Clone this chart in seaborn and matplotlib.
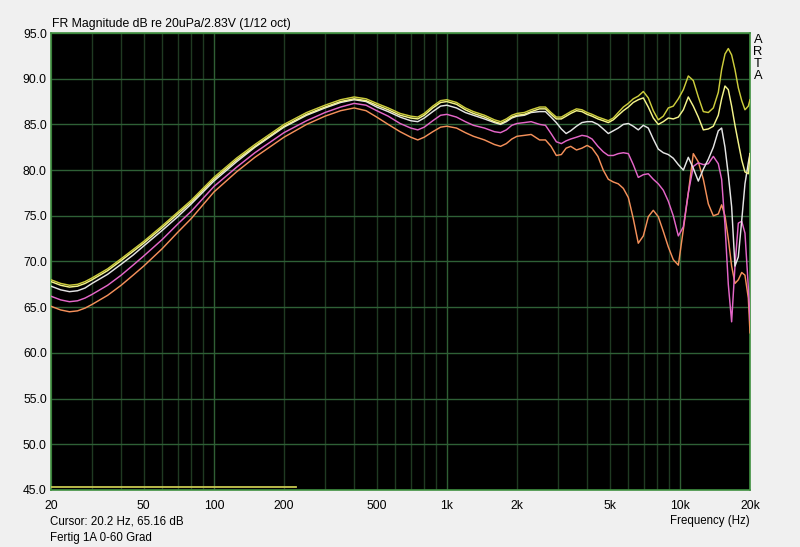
import matplotlib
matplotlib.use("Agg")
import matplotlib.pyplot as plt
import numpy as np
import pandas as pd
import seaborn as sns

# ---------------- data ----------------
freq_hz = [20, 22, 24, 26, 28, 30, 35, 40, 45, 50,
           60, 70, 80, 100, 125, 150, 200, 250, 300, 350,
           400, 450, 500, 560, 630, 700, 750, 800, 870, 940,
           1000, 1100, 1200, 1300, 1450, 1600, 1700, 1800, 1900, 2000,
           2150, 2300, 2500, 2650, 2800, 2950, 3100, 3250, 3400, 3600,
           3800, 4000, 4200,
           4450, 4690, 4930, 5180, 5440, 5720, 6010, 6310, 6630, 6970,
           7320, 7690, 8080, 8490, 8920, 9370, 9850, 10350, 10870, 11420,
           12000, 12610, 13250, 13920, 14620, 15110, 15620, 16140, 16680, 17240,
           17820, 18430, 19030, 19670, 20000]

olive_db = [68.0, 67.6, 67.4, 67.5, 67.8, 68.2, 69.2, 70.3, 71.3, 72.2,
            73.9, 75.4, 76.7, 79.2, 81.3, 82.8, 85.0, 86.3, 87.1, 87.7,
            88.0, 87.8, 87.3, 86.8, 86.2, 85.9, 85.8, 86.2, 87.0, 87.6,
            87.7, 87.4, 86.8, 86.4, 86.0, 85.5, 85.3, 85.6, 86.0, 86.2,
            86.3, 86.6, 86.9, 86.9, 86.3, 85.8, 85.8, 86.1, 86.4, 86.7,
            86.6, 86.3, 86.1,
            85.8, 85.6, 85.4, 85.7, 86.3, 86.9, 87.3, 87.8, 88.1, 88.6,
            87.9, 86.5, 85.5, 85.9, 86.8, 87.0, 87.8, 88.8, 90.3, 89.8,
            88.0, 86.4, 86.3, 86.8, 88.5, 91.0, 92.7, 93.3, 92.6, 91.0,
            89.0, 87.6, 86.6, 87.0, 87.7]

yellow_db = [67.8, 67.4, 67.2, 67.3, 67.6, 68.0, 69.0, 70.1, 71.1, 72.0,
             73.7, 75.2, 76.5, 79.0, 81.1, 82.6, 84.8, 86.1, 86.9, 87.5,
             87.8, 87.6, 87.1, 86.6, 86.0, 85.7, 85.6, 86.0, 86.8, 87.4,
             87.5, 87.2, 86.6, 86.2, 85.8, 85.3, 85.1, 85.4, 85.8, 86.0,
             86.1, 86.4, 86.7, 86.7, 86.1, 85.6, 85.6, 85.9, 86.2, 86.5,
             86.4, 86.1, 85.9,
             85.6, 85.4, 85.2, 85.5, 86.0, 86.5, 86.9, 87.4, 87.7, 87.9,
             86.9, 85.7, 85.0, 85.3, 85.7, 85.6, 85.8, 86.6, 88.0, 87.0,
             85.8, 84.4, 84.5, 84.8, 86.0, 87.8, 89.2, 88.8, 87.0, 84.9,
             83.0, 81.1, 79.8, 79.6, 81.8]

white_db = [67.3, 66.9, 66.7, 66.8, 67.1, 67.6, 68.6, 69.7, 70.7, 71.7,
            73.4, 74.9, 76.3, 78.8, 80.9, 82.5, 84.7, 86.0, 86.8, 87.4,
            87.7, 87.5, 86.9, 86.4, 85.8, 85.4, 85.3, 85.7, 86.4, 87.0,
            87.1, 86.8, 86.3, 86.0, 85.6, 85.2, 85.0, 85.3, 85.7, 85.9,
            86.0, 86.3, 86.4, 86.4, 85.8, 85.2, 84.5, 84.0, 84.3, 84.8,
            85.2, 85.3, 85.3,
            85.0, 84.5, 84.0, 84.3, 84.6, 85.0, 85.1, 84.8, 84.4, 84.9,
            84.6, 83.4, 82.3, 81.9, 81.7, 81.3, 80.6, 80.0, 81.4, 80.2,
            78.8, 80.1, 81.2, 82.5, 84.3, 84.6, 82.5, 79.5, 76.0, 69.5,
            70.5, 74.5, 78.5, 80.8, 81.8]

pink_db = [66.2, 65.8, 65.6, 65.7, 66.0, 66.4, 67.4, 68.5, 69.6, 70.6,
           72.4, 74.1, 75.5, 78.2, 80.3, 81.9, 84.1, 85.4, 86.3, 86.9,
           87.3, 87.1, 86.5, 85.9, 85.1, 84.6, 84.4, 84.7, 85.4, 86.0,
           86.1, 85.8, 85.3, 84.9, 84.6, 84.2, 84.1, 84.4, 84.9, 85.1,
           85.2, 85.3, 85.0, 84.9, 84.0, 83.1, 82.9, 83.2, 83.4, 83.6,
           83.8, 83.7, 83.4,
           82.6, 82.0, 81.6, 81.6, 81.8, 81.9, 81.8, 80.6, 79.2, 79.5,
           79.6, 79.0, 78.5, 77.8, 76.6, 75.0, 72.8, 73.8, 77.5, 80.4,
           80.8, 80.6, 80.7, 81.5, 80.7, 79.0, 74.0, 67.5, 63.4, 69.5,
           74.2, 74.4, 73.1, 67.2, 63.6]

orange_db = [65.1, 64.7, 64.5, 64.6, 64.9, 65.3, 66.3, 67.4, 68.5, 69.5,
             71.4, 73.2, 74.7, 77.6, 79.8, 81.4, 83.6, 85.0, 85.9, 86.5,
             86.8, 86.5, 85.8, 85.0, 84.2, 83.6, 83.3, 83.6, 84.2, 84.7,
             84.8, 84.6, 84.1, 83.7, 83.3, 82.8, 82.6, 82.9, 83.4, 83.7,
             83.8, 83.9, 83.3, 83.3, 82.6, 81.6, 81.7, 82.4, 82.6, 82.2,
             82.4, 82.7, 82.4,
             81.5, 80.0, 79.0, 78.7, 78.5, 78.0, 77.0, 74.7, 72.0, 72.8,
             74.9, 75.6, 74.9, 73.3, 71.6, 70.2, 69.6, 73.5, 77.5, 81.8,
             80.9, 79.0, 76.3, 75.0, 75.2, 76.2, 75.0, 72.5, 69.5, 67.6,
             68.0, 68.8, 68.5, 66.0, 62.2]

series_names = ["0 Grad", "15 Grad", "30 Grad", "45 Grad", "60 Grad"]
series_colors = ["#cccc3c", "#f4f48a", "#e4e4e4", "#e466c8", "#f4905a"]

marker_band_freq = [20, 225]
marker_band_db = [45.3, 45.3]

xtick_values = [20, 50, 100, 200, 500, 1000, 2000, 5000, 10000, 20000]
xtick_labels = ["20", "50", "100", "200", "500", "1k", "2k", "5k", "10k", "20k"]
ytick_values = [45, 50, 55, 60, 65, 70, 75, 80, 85, 90, 95]

# ---------------- figure ----------------
fig = plt.figure(figsize=(8.0, 5.47), dpi=100, facecolor="#f0f0f0")
ax = fig.add_axes([51 / 800, 1 - 490 / 547, 699 / 800, 457 / 547])
ax.set_facecolor("black")

all_db = [olive_db, yellow_db, white_db, pink_db, orange_db]
for arr in all_db:
    assert len(arr) == len(freq_hz)

frames = []
for name, vals in zip(series_names, all_db):
    frames.append(pd.DataFrame({"freq": freq_hz, "db": vals, "series": name}))
df = pd.concat(frames, ignore_index=True)

ax.set_xscale("log")
ax.set_xlim(20, 20000)
ax.set_ylim(45, 95)

# grid
grid_freqs = []
for dec in [10, 100, 1000, 10000]:
    for m in range(1, 10):
        f = dec * m
        if 20 <= f <= 20000:
            grid_freqs.append(f)
grid_freqs.append(20000)
for f in grid_freqs:
    col = "#2f5f34" if f in (100, 1000, 10000) else "#1f3a22"
    ax.axvline(f, color=col, lw=1.0, zorder=1)
for yv in ytick_values:
    ax.axhline(yv, color="#2e6036", lw=1.0, zorder=1)

# curves (draw lower ones first)
order = list(range(len(series_names)))[::-1]
palette = {n: c for n, c in zip(series_names, series_colors)}
sns.lineplot(data=df, x="freq", y="db", hue="series",
             hue_order=[series_names[i] for i in order],
             palette=palette, estimator=None, sort=False,
             lw=1.05, legend=False, ax=ax, zorder=3)

ax.plot(marker_band_freq, marker_band_db, color="#c8c850", lw=1.3, zorder=4)

ax.set_xticks(xtick_values)
ax.set_xticklabels(xtick_labels)
ax.xaxis.set_minor_locator(matplotlib.ticker.NullLocator())
ax.set_yticks(ytick_values)
ax.set_yticklabels([f"{v:.1f}" for v in ytick_values])
ax.tick_params(axis="both", length=0, labelsize=8.7, colors="black")
ax.tick_params(axis="x", pad=7)
ax.tick_params(axis="y", pad=3)
for lab in ax.get_xticklabels() + ax.get_yticklabels():
    lab.set_fontfamily(["Liberation Sans", "DejaVu Sans"])
ax.set_xlabel("")
ax.set_ylabel("")

for sp in ax.spines.values():
    sp.set_color("#3f8f3f")
    sp.set_linewidth(1.2)

txt_family = ["Liberation Sans", "DejaVu Sans"]
fig.text(52 / 800, 1 - 24 / 547, "FR Magnitude dB re 20uPa/2.83V (1/12 oct)",
         fontsize=8.8, va="center", ha="left", family=txt_family)
fig.text(50 / 800, 1 - 521 / 547, "Cursor: 20.2 Hz, 65.16 dB",
         fontsize=8.3, va="center", ha="left", family=txt_family)
fig.text(50 / 800, 1 - 538 / 547, "Fertig 1A 0-60 Grad",
         fontsize=8.3, va="center", ha="left", family=txt_family)
fig.text(750 / 800, 1 - 521 / 547, "Frequency (Hz)",
         fontsize=8.3, va="center", ha="right", family=txt_family)
for i, ch in enumerate("ARTA"):
    fig.text(758 / 800, 1 - (40 + 12 * i) / 547, ch, fontsize=9.3,
             va="center", ha="center", family=txt_family)

fig.savefig("out.png", dpi=100, facecolor=fig.get_facecolor())
